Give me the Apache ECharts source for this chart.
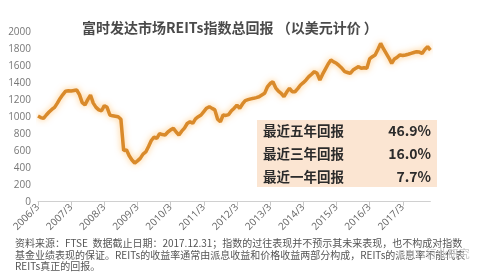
<!DOCTYPE html>
<html><head><meta charset="utf-8">
<script src="https://cdn.jsdelivr.net/npm/echarts@6/dist/echarts.min.js"></script>
<style>html,body{margin:0;padding:0;background:#fff}#c{width:478px;height:280px}</style>
</head><body><div id="c"></div>
<script>
// Monthly categories 2006/3 .. 2018/1
const startYear = 2006, startMonth = 3, nMonths = 143;
const categories = [];
for (let i = 0; i < nMonths; i++) {
  const m = startMonth - 1 + i;
  categories.push((startYear + Math.floor(m / 12)) + '/' + (m % 12 + 1));
}
const indexValues = [
  1008, 990, 980, 1020, 1055, 1085, 1110, 1160, 1215, 1260, 1300, 1305,
  1302, 1308, 1314, 1260, 1165, 1140, 1200, 1255, 1160, 1110, 1080, 1070,
  1130, 1110, 1020, 1010, 1005, 1000, 970, 600, 610, 540, 490, 455,
  480, 510, 560, 585, 650, 720, 760, 745, 800, 790, 785, 820,
  845, 863, 820, 785, 830, 865, 920, 940, 922, 975, 1000, 1020,
  1060, 1100, 1118, 1098, 1080, 970, 941, 1020, 1015, 1025, 1070, 1100,
  1137, 1098, 1150, 1190, 1200, 1210, 1216, 1225, 1235, 1255, 1275, 1350,
  1390, 1412, 1340, 1300, 1275, 1235, 1290, 1334, 1294, 1294, 1330, 1373,
  1400, 1432, 1471, 1500, 1530, 1510, 1432, 1500, 1560, 1620, 1667, 1645,
  1628, 1600, 1569, 1530, 1520, 1510, 1549, 1570, 1589, 1569, 1575, 1569,
  1680, 1706, 1726, 1790, 1863, 1800, 1745, 1690, 1628, 1680, 1700, 1726,
  1720, 1726, 1735, 1745, 1755, 1765, 1760, 1745, 1790, 1824, 1784
];
const yTicks = [0, 200, 400, 600, 800, 1000, 1200, 1400, 1600, 1800, 2000];
const titleText = '富时发达市场REITs指数总回报 （以美元计价 ）';
const returnLabels = ['最近五年回报', '最近三年回报', '最近一年回报'];
const returnValues = ['46.9%', '16.0%', '7.7%'];
const footLines = [
  '资料来源：FTSE  数据截止日期：2017.12.31；指数的过往表现并不预示其未来表现，也不构成对指数',
  '基金业绩表现的保证。REITs的收益率通常由派息收益和价格收益两部分构成，REITs的派息率不能代表',
  'REITs真正的回报。'
];

const cjk = '"Noto Sans CJK SC", "Noto Sans", sans-serif';
const chart = echarts.init(document.getElementById('c'));
const graphic = [];
graphic.push({type:'text', left:82, top:21, style:{text:titleText, font:'bold 14px ' + cjk, fill:'#4a4a4a'}});
graphic.push({type:'rect', shape:{x:257, y:120, width:180, height:67}, style:{fill:'#fbe5d2'}, z:10});
const rowY = [130.5, 154, 176.5];
returnLabels.forEach((t, i) => {
  graphic.push({type:'text', x:263, y:rowY[i], style:{text:t, font:'bold 13.5px ' + cjk, fill:'#2b2b2b', verticalAlign:'middle', align:'left'}, z:11});
  graphic.push({type:'text', x:431, y:rowY[i], style:{text:returnValues[i], font:'bold 14px ' + cjk, fill:'#2b2b2b', verticalAlign:'middle', align:'right'}, z:11});
});
footLines.forEach((t, i) => {
  graphic.push({type:'text', x:15, y:243.5 + i * 11.5, style:{text:t, font:'10px ' + cjk, fill:'#555', verticalAlign:'middle'}});
});
graphic.push({type:'text', x:398, y:254, style:{text:'REITs行业研究', font:'11px ' + cjk, fill:'#c8c8c8', verticalAlign:'middle'}});

chart.setOption({
  animation:false,
  grid:{left:38, right:47.6, top:31.7, bottom:78.3, containLabel:false, outerBoundsMode:'none'},
  xAxis:{
    type:'category', data:categories, boundaryGap:false,
    axisLine:{lineStyle:{color:'#d0d0d0', width:1}},
    axisTick:{interval:11, length:4, lineStyle:{color:'#c8c8c8'}},
    axisLabel:{interval:11, rotate:45, fontSize:10, color:'#666', margin:4, fontFamily:'"Open Sans", sans-serif'}
  },
  yAxis:{
    type:'value', min:yTicks[0], max:yTicks[yTicks.length-1], interval:200,
    axisLine:{show:false}, axisTick:{show:false}, splitLine:{show:false},
    axisLabel:{fontSize:10, color:'#777', margin:7, fontFamily:'"Open Sans", sans-serif', formatter:v => String(v)}
  },
  series:[{
    type:'line', data:indexValues, symbol:'none', smooth:false,
    lineStyle:{width:3.5, color:'#d98a2b', shadowColor:'rgba(255,175,70,0.7)', shadowBlur:6},
    z:5
  }],
  graphic:graphic
});
</script></body></html>
